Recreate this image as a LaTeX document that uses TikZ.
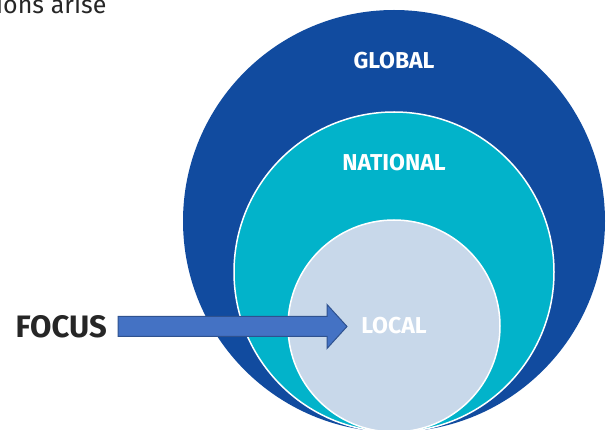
\documentclass[tikz,border=0pt]{standalone}
\usepackage{fontspec}
\setmainfont{Fira Sans}
\definecolor{globalblue}{HTML}{114B9F}
\definecolor{nationalcyan}{HTML}{02B3CA}
\definecolor{localgrey}{HTML}{C8D8EA}
\definecolor{arrowfill}{HTML}{4472C4}
\definecolor{arrowline}{HTML}{2F528F}
\definecolor{inkgrey}{HTML}{262626}
\tikzset{
  ringlabel/.style={text=white,font=\bfseries\fontsize{23}{27}\selectfont,inner sep=0pt},
  blockarrow/.style={fill=arrowfill,draw=arrowline,line width=1pt,line join=miter}
}
\begin{document}
\begin{tikzpicture}[x=1pt,y=-1pt]
\pgfmathsetmacro{\kcx}{394}
\pgfmathsetmacro{\kbot}{432}
\useasboundingbox (0,0) rectangle (611,430);
\begin{scope}
\clip (0,0) rectangle (611,430);
\fill[globalblue](\kcx,\kbot-211)circle(211);
\filldraw[fill=nationalcyan,draw=white,line width=1.5pt](\kcx,\kbot-160)circle(160);
\filldraw[fill=localgrey,draw=white,line width=1.5pt](\kcx,\kbot-106)circle(106);
\end{scope}
\node[anchor=base west,inner sep=0pt,text=inkgrey,font=\fontsize{25}{30}\selectfont](caption)at(-4,14){ions arise};
\node[ringlabel](global)at(\kcx,61){GLOBAL};
\node[ringlabel](national)at(\kcx,163){NATIONAL};
\node[ringlabel](local)at(\kcx,326){LOCAL};
\node[anchor=east,inner sep=0pt,text=inkgrey,font=\bfseries\fontsize{31}{36}\selectfont](focus)at(107,326.5){FOCUS};
\coordinate(tail)at([xshift=11pt]focus.east);
\draw[blockarrow](tail)++(0,-10)--++(209,0)--++(0,-12)--++(20,22)--++(-20,22)--++(0,-12)--++(-209,0)--cycle;
\end{tikzpicture}
\end{document}
